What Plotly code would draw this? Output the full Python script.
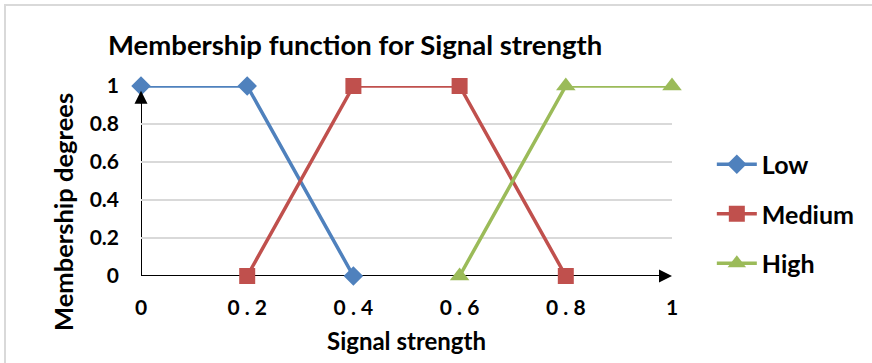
import plotly.graph_objects as go

title = "Membership function for Signal strength"
x_title = "Signal strength"
y_title = "Membership degrees"

tick_vals = [0, 0.2, 0.4, 0.6, 0.8, 1]
tick_text = ["0", "0 . 2", "0 . 4", "0 . 6", "0 . 8", "1"]
y_ticks = [0, 0.2, 0.4, 0.6, 0.8, 1]
y_tick_text = ["0", "0.2", "0.4", "0.6", "0.8", "1"]

low_x = [0, 0.2, 0.4]
low_y = [1, 1, 0]
med_x = [0.2, 0.4, 0.6, 0.8]
med_y = [0, 1, 1, 0]
high_x = [0.6, 0.8, 1]
high_y = [0, 1, 1]

FONT = "Lato"
PLOT_L, PLOT_R, PLOT_T, PLOT_B = 141, 672, 86, 276

fig = go.Figure()
fig.add_trace(go.Scatter(x=low_x, y=low_y, name="<b>Low</b>", mode="lines+markers",
                         legendgroup="a",
                         line=dict(color="#4F81BD", width=3.5),
                         marker=dict(symbol="diamond", size=15, color="#4F81BD"),
                         cliponaxis=False))
fig.add_trace(go.Scatter(x=med_x, y=med_y, name="<b>Medium</b>", mode="lines+markers",
                         legendgroup="b",
                         line=dict(color="#C0504D", width=3.5),
                         marker=dict(symbol="square", size=16, color="#C0504D"),
                         cliponaxis=False))
fig.add_trace(go.Scatter(x=high_x, y=high_y, name="<b>High</b>", mode="lines+markers",
                         legendgroup="c",
                         line=dict(color="#9BBB59", width=3.5),
                         marker=dict(symbol="triangle-up", size=17, color="#9BBB59"),
                         cliponaxis=False))

# axis shafts (below traces)
fig.add_shape(type="line", xref="x", yref="y", x0=0, y0=0, x1=0.99, y1=0,
              line=dict(color="black", width=2), layer="below")
fig.add_shape(type="line", xref="x", yref="y", x0=0, y0=0, x1=0, y1=0.97,
              line=dict(color="black", width=2), layer="below")
# arrow heads
fig.add_annotation(x=1, y=0, xref="x", yref="y", ax=-14, ay=0, text="",
                   showarrow=True, arrowhead=2, arrowsize=1.3, arrowwidth=2, arrowcolor="black")
fig.add_annotation(x=0, y=0.975, xref="x", yref="y", ax=0, ay=14, text="",
                   showarrow=True, arrowhead=2, arrowsize=1.3, arrowwidth=2, arrowcolor="black")

# y axis title placed like the reference (lower than plot centre)
pw = PLOT_R - PLOT_L
ph = PLOT_B - PLOT_T
fig.add_annotation(x=(63 - PLOT_L) / pw, y=(PLOT_B - 212) / ph, xref="paper", yref="paper",
                   text="<b>" + y_title + "</b>", textangle=-90, showarrow=False,
                   xanchor="center", yanchor="middle",
                   font=dict(size=25.5, family=FONT, color="black"))

# light border (top/left visible)
fig.add_shape(type="rect", xref="paper", yref="paper",
              x0=(5 - PLOT_L) / pw, y0=-0.9, x1=1.5, y1=(PLOT_B - 5) / ph,
              line=dict(color="#D9D9D9", width=2), layer="below")

fig.update_layout(
    width=872, height=363,
    margin=dict(l=PLOT_L, r=872 - PLOT_R, t=PLOT_T, b=363 - PLOT_B),
    paper_bgcolor="white", plot_bgcolor="white",
    font=dict(family=FONT, color="black"),
    title=dict(text="<b>" + title + "</b>", x=108 / 872, xanchor="left",
               y=1 - 45 / 363, yanchor="middle",
               font=dict(size=27.5, family=FONT, color="black")),
    showlegend=True,
    legend=dict(x=1.075, xanchor="left", y=0.326, yanchor="middle",
                font=dict(size=25, family=FONT, color="black"),
                itemsizing="trace", tracegroupgap=14, itemwidth=40,
                bgcolor="rgba(0,0,0,0)"),
)
fig.update_xaxes(range=[0, 1], tickvals=tick_vals, ticktext=["<b>" + t + "</b>" for t in tick_text],
                 showgrid=False, zeroline=False, showline=False,
                 ticks="", tickfont=dict(size=21, family=FONT, color="black"),
                 ticklabelstandoff=17,
                 title=dict(text="<b>" + x_title + "</b>", font=dict(size=24, family=FONT), standoff=15))
fig.update_yaxes(range=[0, 1], tickvals=y_ticks, ticktext=["<b>" + t + "</b>" for t in y_tick_text],
                 showgrid=True, gridcolor="#D9D9D9", gridwidth=1.5,
                 zeroline=False, showline=False, ticks="",
                 tickfont=dict(size=21, family=FONT, color="black"),
                 ticklabelstandoff=21)

fig.write_html("out.html")
